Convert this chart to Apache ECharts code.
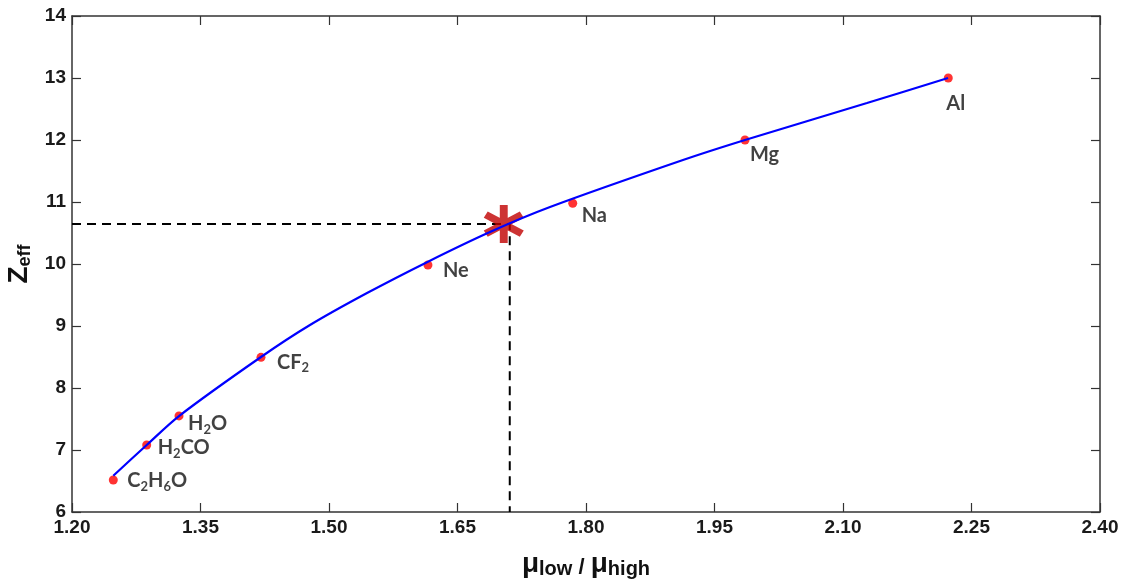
<!DOCTYPE html>
<html>
<head>
<meta charset="utf-8">
<script src="https://cdn.jsdelivr.net/npm/echarts@6/dist/echarts.min.js"></script>
<style>
  html, body { margin: 0; padding: 0; background: #fff; }
  #main { width: 1131px; height: 588px; }
</style>
</head>
<body>
<div id="main"></div>
<script>
// fitted curve
var curveX = [1.2482, 1.2872, 1.3249, 1.4206, 1.4778, 1.5444, 1.6144, 1.6879, 1.7580, 1.9132, 1.9856, 2.1280, 2.2226];
var curveY = [6.585, 7.081, 7.548, 8.500, 9.016, 9.532, 10.030, 10.516, 10.919, 11.677, 12.000, 12.597, 13.000];

// reference materials
var pointNames = ['C{s|2}H{s|6}O', 'H{s|2}CO', 'H{s|2}O', 'CF{s|2}', 'Ne', 'Na', 'Mg', 'Al'];
var pointX = [1.2482, 1.2872, 1.3249, 1.4206, 1.6155, 1.7845, 1.9856, 2.2229];
var pointY = [6.516, 7.080, 7.550, 8.495, 9.984, 10.980, 12.000, 13.000];

// measured sample and its read-off guide
var sampleX = 1.704;
var sampleY = 10.645;
var guideX = 1.711;

var xTicks = [1.20, 1.35, 1.50, 1.65, 1.80, 1.95, 2.10, 2.25, 2.40];
var yTicks = [6, 7, 8, 9, 10, 11, 12, 13, 14];

// label placement (pixels from the dot)
var labelOffsets = [[14, 1], [11, 3], [9, 8], [16, 5], [15, 6], [9, 12], [5, 15], [-2, 26]];

var myChart = echarts.init(document.getElementById('main'));

var curveData = curveX.map(function (x, i) { return [x, curveY[i]]; });
var pointData = pointX.map(function (x, i) {
  return {
    value: [x, pointY[i]],
    label: { formatter: pointNames[i], offset: labelOffsets[i] }
  };
});
var guideData = [[xTicks[0], sampleY], [guideX, sampleY], [guideX, yTicks[0]]];

var axisLine = { show: true, onZero: false, lineStyle: { color: '#333', width: 1.5 } };
var axisTick = { show: true, inside: true, length: 9, lineStyle: { color: '#333', width: 1.2 } };
var tickFont = { color: '#1a1a1a', fontSize: 19, fontWeight: 'bold', fontFamily: 'Liberation Sans, Arial, sans-serif' };
var axisFont = 'Liberation Sans, Arial, sans-serif';

// six-armed asterisk, like the MATLAB '*' marker
var star = 'path://M-0.19,-1 L0.19,-1 L0.19,1 L-0.19,1 Z ' +
  'M0.771,-0.665 L0.961,-0.336 L-0.771,0.665 L-0.961,0.336 Z ' +
  'M-0.961,-0.336 L-0.771,-0.665 L0.961,0.336 L0.771,0.665 Z';

var option = {
  animation: false,
  backgroundColor: '#fff',
  grid: { left: 72, right: 31, top: 16, bottom: 76, outerBoundsMode: 'none', containLabel: false },
  xAxis: [{
    type: 'value',
    min: xTicks[0], max: xTicks[xTicks.length - 1], interval: 0.15,
    axisLine: axisLine, axisTick: axisTick, splitLine: { show: false },
    axisLabel: Object.assign({ margin: 6, formatter: function (v) { return v.toFixed(2); } }, tickFont),
    name: '{m|μ}{s|low}{d| / }{m|μ}{s|high}',
    nameLocation: 'middle', nameGap: 37,
    nameTextStyle: {
      fontFamily: axisFont, fontWeight: 'bold', color: '#111', lineHeight: 30,
      rich: {
        m: { fontSize: 28, fontWeight: 'bold', fontFamily: axisFont, color: '#111', lineHeight: 30 },
        s: { fontSize: 20, fontWeight: 'bold', fontFamily: axisFont, color: '#111', lineHeight: 18, verticalAlign: 'bottom' },
        d: { fontSize: 22, fontWeight: 'bold', fontFamily: axisFont, color: '#111', lineHeight: 28, verticalAlign: 'bottom' }
      }
    }
  }, {
    type: 'value', position: 'top',
    min: xTicks[0], max: xTicks[xTicks.length - 1], interval: 0.15,
    axisLine: axisLine, axisTick: axisTick, splitLine: { show: false }, axisLabel: { show: false }
  }],
  yAxis: [{
    type: 'value',
    min: yTicks[0], max: yTicks[yTicks.length - 1], interval: 1,
    axisLine: axisLine, axisTick: axisTick, splitLine: { show: false },
    axisLabel: Object.assign({ margin: 6 }, tickFont),
    name: '{m|Z}{s|eff}',
    nameLocation: 'middle', nameGap: 37, nameRotate: 90,
    nameTextStyle: {
      lineHeight: 30,
      rich: {
        m: { fontSize: 28, fontWeight: 'bold', fontFamily: axisFont, color: '#111', lineHeight: 30 },
        s: { fontSize: 18, fontWeight: 'bold', fontFamily: axisFont, color: '#111', lineHeight: 16, verticalAlign: 'bottom' }
      }
    }
  }, {
    type: 'value', position: 'right',
    min: yTicks[0], max: yTicks[yTicks.length - 1], interval: 1,
    axisLine: axisLine, axisTick: axisTick, splitLine: { show: false }, axisLabel: { show: false }
  }],
  series: [
    {
      name: 'materials', type: 'scatter', data: pointData,
      symbol: 'circle', symbolSize: 9, itemStyle: { color: '#ff0000' }, z: 2,
      label: {
        show: true, position: 'inside', align: 'left', verticalAlign: 'middle',
        fontFamily: 'Lato, Open Sans, sans-serif', fontWeight: 'bold', fontSize: 20, color: '#111', lineHeight: 24,
        rich: {
          s: { fontFamily: 'Lato, Open Sans, sans-serif', fontWeight: 'bold', fontSize: 13, color: '#111', lineHeight: 12, verticalAlign: 'bottom' }
        }
      }
    },
    {
      name: 'guide', type: 'line', data: guideData, showSymbol: false,
      lineStyle: { color: '#000', width: 2, type: [9, 6] }, z: 3
    },
    {
      name: 'sample', type: 'scatter', data: [[sampleX, sampleY]],
      symbol: star, symbolSize: [40, 38], itemStyle: { color: '#c00000' }, z: 4
    },
    {
      name: 'fit', type: 'line', data: curveData, smooth: 0.3,
      showSymbol: false, lineStyle: { color: '#0000ff', width: 2.2 }, z: 5
    }
  ]
};

myChart.setOption(option);
</script>
</body>
</html>
